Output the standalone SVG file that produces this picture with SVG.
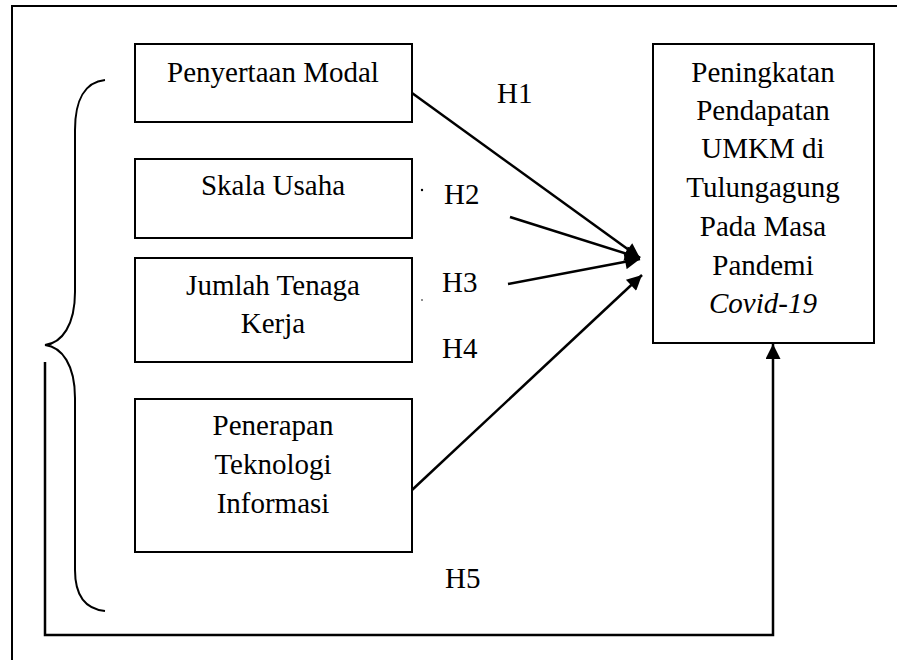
<svg xmlns="http://www.w3.org/2000/svg" width="897" height="660" viewBox="0 0 897 660">
<style>
  .box { fill: #fff; stroke: #000; stroke-width: 2; }
  .t { font-family: 'Liberation Serif', 'DejaVu Serif', serif; font-size: 29px; fill: #000; text-anchor: middle; }
  .lbl { font-family: 'Liberation Serif', 'DejaVu Serif', serif; font-size: 29px; fill: #000; }
  .ln { fill: none; stroke: #000; stroke-width: 2.5; }
  .frame { fill: none; stroke: #000; stroke-width: 2; }
</style>
<defs>
  <marker id="ah" viewBox="0 0 10 10" refX="10" refY="5" markerWidth="7" markerHeight="6" markerUnits="strokeWidth" orient="auto">
    <path d="M0,0 L10,5 L0,10 z" fill="#000"/>
  </marker>
</defs>
<rect width="897" height="660" fill="#fff"/>
<path class="frame" d="M12,660 L12,6 L897,6"/>
<g id="brace">
  <path class="frame" d="M105,80 C85,82 75,100 75,130 L75,292 C75,325 62,343 45,345 C62,347 75,365 75,398 L75,570 C75,595 85,609 105,611"/>
</g>
<g id="n1"><rect class="box" x="135" y="44" width="277" height="78"/><text class="t" x="273" y="82">Penyertaan Modal</text></g>
<g id="n2"><rect class="box" x="135" y="159" width="277" height="79"/><text class="t" x="273" y="195">Skala Usaha</text></g>
<g id="n3"><rect class="box" x="135" y="258" width="277" height="104"/><text class="t" x="273" y="295">Jumlah Tenaga</text><text class="t" x="273" y="333">Kerja</text></g>
<g id="n4"><rect class="box" x="135" y="399" width="277" height="153"/><text class="t" x="273" y="435">Penerapan</text><text class="t" x="273" y="474">Teknologi</text><text class="t" x="273" y="513">Informasi</text></g>
<g id="n5"><rect class="box" x="653" y="44" width="221" height="299"/>
  <text class="t" x="763" y="82">Peningkatan</text>
  <text class="t" x="763" y="120">Pendapatan</text>
  <text class="t" x="763" y="158">UMKM di</text>
  <text class="t" x="763" y="197">Tulungagung</text>
  <text class="t" x="763" y="236">Pada Masa</text>
  <text class="t" x="763" y="275">Pandemi</text>
  <text class="t" x="763" y="313" font-style="italic">Covid-19</text>
</g>
<g id="connectors">
  <line class="ln" x1="412" y1="93" x2="640" y2="258" marker-end="url(#ah)"/>
  <line class="ln" x1="510" y1="217" x2="640" y2="258" marker-end="url(#ah)"/>
  <line class="ln" x1="508" y1="284" x2="640" y2="259" marker-end="url(#ah)"/>
  <line class="ln" x1="412" y1="490" x2="642" y2="275" marker-end="url(#ah)"/>
  <path class="ln" d="M45,362 L45,635 L773,635 L773,344" marker-end="url(#ah)"/>
</g>
<g id="labels">
  <text class="lbl" x="497" y="103">H1</text>
  <text class="lbl" x="444" y="204">H2</text>
  <text class="lbl" x="442" y="292">H3</text>
  <text class="lbl" x="442" y="358">H4</text>
  <text class="lbl" x="445" y="588">H5</text>
  <circle cx="422" cy="190" r="1.2" fill="#000"/>
  <circle cx="422" cy="300" r="0.8" fill="#000"/>
</g>
</svg>
